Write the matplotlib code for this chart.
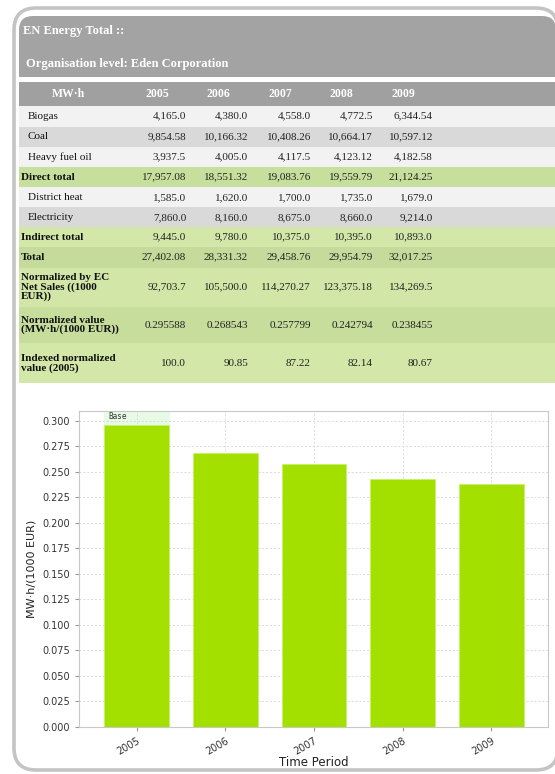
import matplotlib.pyplot as plt
from matplotlib.patches import FancyBboxPatch, Rectangle
from matplotlib.ticker import MultipleLocator, FormatStrFormatter

# ---------------------------- dados
anos = ['2005', '2006', '2007', '2008', '2009']

rotulos = ['Biogas', 'Coal', 'Heavy fuel oil', 'Direct total', 'District heat',
           'Electricity', 'Indirect total', 'Total',
           'Normalized by EC\nNet Sales ((1000\nEUR))',
           'Normalized value\n(MW·h/(1000 EUR))',
           'Indexed normalized\nvalue (2005)']

biogas = [4165.0, 4380.0, 4558.0, 4772.5, 6344.54]
coal = [9854.58, 10166.32, 10408.26, 10664.17, 10597.12]
heavy_fuel = [3937.5, 4005.0, 4117.5, 4123.12, 4182.58]
direct_total = [17957.08, 18551.32, 19083.76, 19559.79, 21124.25]
district_heat = [1585.0, 1620.0, 1700.0, 1735.0, 1679.0]
electricity = [7860.0, 8160.0, 8675.0, 8660.0, 9214.0]
indirect_total = [9445.0, 9780.0, 10375.0, 10395.0, 10893.0]
total = [27402.08, 28331.32, 29458.76, 29954.79, 32017.25]
net_sales = [92703.7, 105500.0, 114270.27, 123375.18, 134269.5]
normalizado = [0.295588, 0.268543, 0.257799, 0.242794, 0.238455]
indexado = [100.0, 90.85, 87.22, 82.14, 80.67]

linhas = [biogas, coal, heavy_fuel, direct_total, district_heat, electricity,
          indirect_total, total, net_sales, normalizado, indexado]

# ---------------------------- layout da tabela (pixels)
alturas = [20.5, 20.2, 20.0, 20.6, 20.0, 20.0, 19.4, 21.0, 39.0, 36.6, 40.0]
cores = ['#f2f2f2', '#d9d9d9', '#f2f2f2', '#c6df9c', '#f2f2f2', '#d9d9d9',
         '#d3e8a8', '#c5db9b', '#d2e7a7', '#c6dd9c', '#d2e7a8']
negrito = [False, False, False, True, False, False, True, True, True, True, True]
col_dir = [186, 248, 311, 373, 433]
col_cab = [157.5, 218.5, 280.5, 341, 403.5]
serif = 'Liberation Serif'

fig = plt.figure(figsize=(5.55, 7.74), dpi=100)
bg = fig.add_axes([0, 0, 1, 1])
bg.set_xlim(0, 555)
bg.set_ylim(774, 0)
bg.axis('off')

# moldura externa
bg.add_patch(FancyBboxPatch((14, 8), 544, 762, boxstyle='round,pad=0,rounding_size=22',
                            facecolor='white', edgecolor='#c4c4c4', linewidth=2.6))
# cabeçalho cinza
bg.add_patch(FancyBboxPatch((19, 16), 537, 40, boxstyle='round,pad=0,rounding_size=14',
                            facecolor='#a3a3a3', edgecolor='none'))
bg.add_patch(Rectangle((19, 40), 537, 37, facecolor='#a3a3a3', edgecolor='none'))
bg.text(23, 31, 'EN Energy Total ::', family=serif, weight='bold', fontsize=9,
        color='white', va='center')
bg.text(26, 64, 'Organisation level: Eden Corporation', family=serif, weight='bold',
        fontsize=9, color='white', va='center')

# cabeçalho da tabela
bg.add_patch(Rectangle((19, 81.5), 540, 24.5, facecolor='#a0a0a0', edgecolor='none'))
bg.text(68, 94, 'MW·h', family=serif, weight='bold', fontsize=8.5, color='white',
        ha='center', va='center')
for x, ano in zip(col_cab, anos):
    bg.text(x, 94, ano, family=serif, weight='bold', fontsize=8.5, color='white',
            ha='center', va='center')

y = 106
for rot, vals, h, cor, b in zip(rotulos, linhas, alturas, cores, negrito):
    bg.add_patch(Rectangle((19, y), 540, h, facecolor=cor, edgecolor='none'))
    yc = y + h / 2
    bg.text(21 if b else 27.7, yc, rot, family=serif, weight='bold' if b else 'normal',
            fontsize=8, color='#111111', va='center', linespacing=1.0)
    for x, v in zip(col_dir, vals):
        bg.text(x, yc, f"{v:,}", family=serif, fontsize=8, color='#222222',
                ha='right', va='center')
    y += h

# ---------------------------- gráfico
ax = fig.add_axes([79 / 555, 1 - 727 / 774, 469 / 555, 316.3 / 774])
ax.set_zorder(2)
pos = list(range(len(anos)))
ax.axvspan(-0.37, 0.37, color='#e6fae6', zorder=0)
ax.bar(pos, normalizado, width=0.73, color='#a3e000', edgecolor='#c6f26a',
       linewidth=0.6, zorder=3)
ax.text(-0.32, 0.3045, 'Base', family='DejaVu Sans Mono', fontsize=5.5,
        color='#333333', va='center', zorder=4)

ax.set_xlim(-0.648, 4.637)
ax.set_ylim(0, 0.31)
ax.yaxis.set_major_locator(MultipleLocator(0.025))
ax.yaxis.set_major_formatter(FormatStrFormatter('%.3f'))
ax.set_xticks(pos)
ax.set_xticklabels(anos, rotation=30, ha='right', rotation_mode='anchor')
ax.grid(True, linestyle=(0, (2, 2)), color='#dadada', linewidth=0.7, zorder=1)
ax.set_axisbelow(True)
for s in ax.spines.values():
    s.set_color('#c8c8c8')
ax.tick_params(length=3, color='#999999', labelsize=7, labelcolor='#333333')
ax.tick_params(axis='x', pad=3)
ax.set_ylabel('MW·h/(1000 EUR)', fontsize=8, color='#222222', labelpad=4)
ax.set_xlabel('Time Period', fontsize=8.5, color='#222222', labelpad=0)

fig.savefig('out.png', dpi=100)
